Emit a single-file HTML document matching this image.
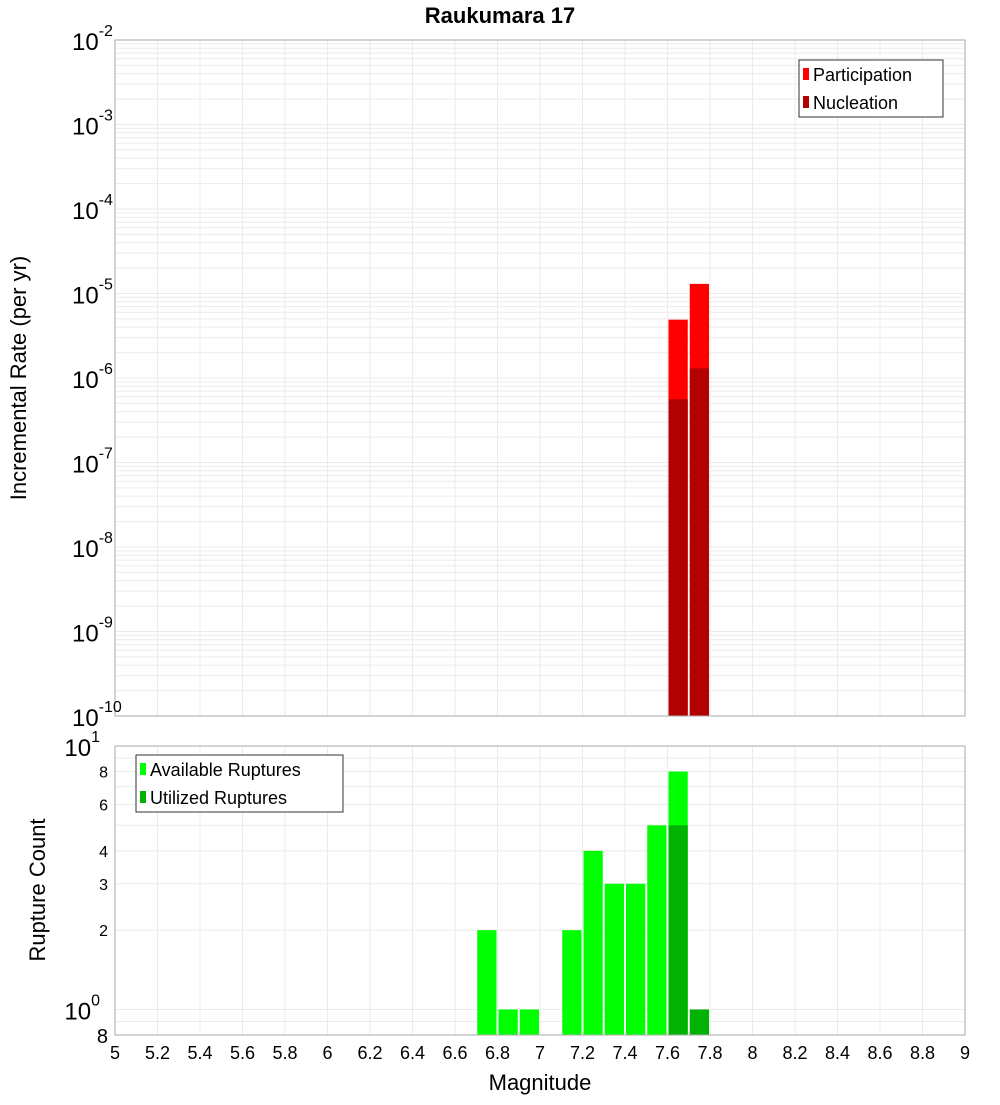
<!DOCTYPE html>
<html><head><meta charset="utf-8"><style>
body{margin:0;background:#fff;}
svg{font-family:"Liberation Sans","DejaVu Sans",sans-serif;}
</style></head><body>
<svg id="c" width="1000" height="1100" xmlns="http://www.w3.org/2000/svg">
<text x="500" y="23" text-anchor="middle" font-size="22" font-weight="bold">Raukumara 17</text>
<g id="topg"></g><g id="botg"></g>
</svg>
<script>
const binCenters=[6.75,6.85,6.95,7.05,7.15,7.25,7.35,7.45,7.55,7.65,7.75];
const available=[2,1,1,0,2,4,3,3,5,8,0];
const utilized=[0,0,0,0,0,0,0,0,0,5,1];
const rateCenters=[7.65,7.75];
const participation=[4.9e-6,1.3e-5];
const nucleation=[5.6e-7,1.3e-6];
const xTicks=[5,5.2,5.4,5.6,5.8,6,6.2,6.4,6.6,6.8,7,7.2,7.4,7.6,7.8,8,8.2,8.4,8.6,8.8,9];
const xTickLabels=["5","5.2","5.4","5.6","5.8","6","6.2","6.4","6.6","6.8","7","7.2","7.4","7.6","7.8","8","8.2","8.4","8.6","8.8","9"];
const topExps=[-2,-3,-4,-5,-6,-7,-8,-9,-10];
const botTicks=[10,8,6,4,3,2,1,0.8];
const botLabels=["10","8","6","4","3","2","10","8"];

const NS="http://www.w3.org/2000/svg";
function mk(p,t,a,txt){const e=document.createElementNS(NS,t);for(const k in a)e.setAttribute(k,a[k]);if(txt!==undefined)e.textContent=txt;p.appendChild(e);return e;}
const L=115,R=965;
const X=v=>L+(v-5)/4*(R-L);
const T0=40,T1=716;
const YT=v=>T0+(-2-Math.log10(v))/8*(T1-T0);
const B0=746,B1=1035;
const lb0=Math.log10(0.8);
const YB=v=>B1-(Math.log10(v)-lb0)/(1-lb0)*(B1-B0);
const gTop=document.getElementById('topg'),gBot=document.getElementById('botg');

for(let e=-10;e<-2;e++)for(let m=1;m<10;m++){const y=YT(m*Math.pow(10,e));const g=mk(gTop,'line',{x1:L,x2:R,y1:y,y2:y,stroke:'#ebebeb','stroke-width':1});

}
[0.8,0.9,1,2,3,4,5,6,7,8,9].forEach(v=>{const y=YB(v);const g=mk(gBot,'line',{x1:L,x2:R,y1:y,y2:y,stroke:'#ebebeb'});

});
xTicks.forEach(v=>{const x=X(v);
const a=mk(gTop,'line',{x1:x,x2:x,y1:T0,y2:T1,stroke:'#ebebeb'});


const b=mk(gBot,'line',{x1:x,x2:x,y1:B0,y2:B1,stroke:'#ebebeb'});

});

rateCenters.forEach((c,i)=>{const x0=X(c-0.05)+1,x1=X(c+0.05)-1;
const p=mk(gTop,'rect',{x:x0,y:YT(participation[i]),width:x1-x0,height:T1-YT(participation[i]),fill:'#ff0000'});


const n=mk(gTop,'rect',{x:x0,y:YT(nucleation[i]),width:x1-x0,height:T1-YT(nucleation[i]),fill:'#b30000'});

});
binCenters.forEach((c,i)=>{const x0=X(c-0.05)+1,x1=X(c+0.05)-1;
if(available[i]>0){const a=mk(gBot,'rect',{x:x0,y:YB(available[i]),width:x1-x0,height:B1-YB(available[i]),fill:'#00ff00'});

}
if(utilized[i]>0){const u=mk(gBot,'rect',{x:x0,y:YB(utilized[i]),width:x1-x0,height:B1-YB(utilized[i]),fill:'#00b300'});

}});

const f1=mk(gTop,'rect',{x:L,y:T0,width:R-L,height:T1-T0,fill:'none',stroke:'#aaa'});


const f2=mk(gBot,'rect',{x:L,y:B0,width:R-L,height:B1-B0,fill:'none',stroke:'#aaa'});



topExps.forEach(e=>{const y=YT(Math.pow(10,e));
const t=mk(gTop,'text',{x:72,y:y+10,'font-size':24});


t.textContent='10';
mk(t,'tspan',{dy:-14,'font-size':16},String(e));});
botTicks.forEach((v,i)=>{const y=YB(v);const t=mk(gBot,'text',{'font-size':(botLabels[i]==='10')?24:16,'text-anchor':'end'});


if(botLabels[i]==='10'){t.setAttribute('x',100);t.setAttribute('y',y+10);t.textContent='10';mk(t,'tspan',{dy:-14,'font-size':16},v===10?'1':'0');}
else{t.setAttribute('x',108);t.setAttribute('y',y+6);if(v===0.8){t.setAttribute('font-size',20);t.setAttribute('y',y+8);}t.textContent=botLabels[i];}});
xTicks.forEach((v,i)=>{const t=mk(gBot,'text',{x:X(v),y:1059,'text-anchor':'middle','font-size':18},xTickLabels[i]);

});
const xt=mk(gBot,'text',{x:540,y:1090,'text-anchor':'middle','font-size':22},'Magnitude');


const yt1=mk(gTop,'text',{x:0,y:0,'text-anchor':'middle','font-size':22,transform:'translate(26,378) rotate(-90)'},'Incremental Rate (per yr)');


const yt2=mk(gBot,'text',{x:0,y:0,'text-anchor':'middle','font-size':22,transform:'translate(45,890) rotate(-90)'},'Rupture Count');



function legend(p,x,y,w,items,name){const g=mk(p,'g',{});


mk(g,'rect',{x:x,y:y,width:w,height:57,fill:'#fff',stroke:'#333'});
items.forEach((it,i)=>{const cy=y+14+i*28;
const sw=mk(g,'rect',{x:x+4,y:cy-6,width:6,height:12,fill:it[1]});


const t=mk(g,'text',{x:x+14,y:cy+7,'font-size':18},it[0]);

});}
legend(gTop,799,60,144,[['Participation','#ff0000'],['Nucleation','#b30000']],'top-legend');
legend(gBot,136,755,207,[['Available Ruptures','#00ff00'],['Utilized Ruptures','#00b300']],'bottom-legend');
</script>
</body></html>
